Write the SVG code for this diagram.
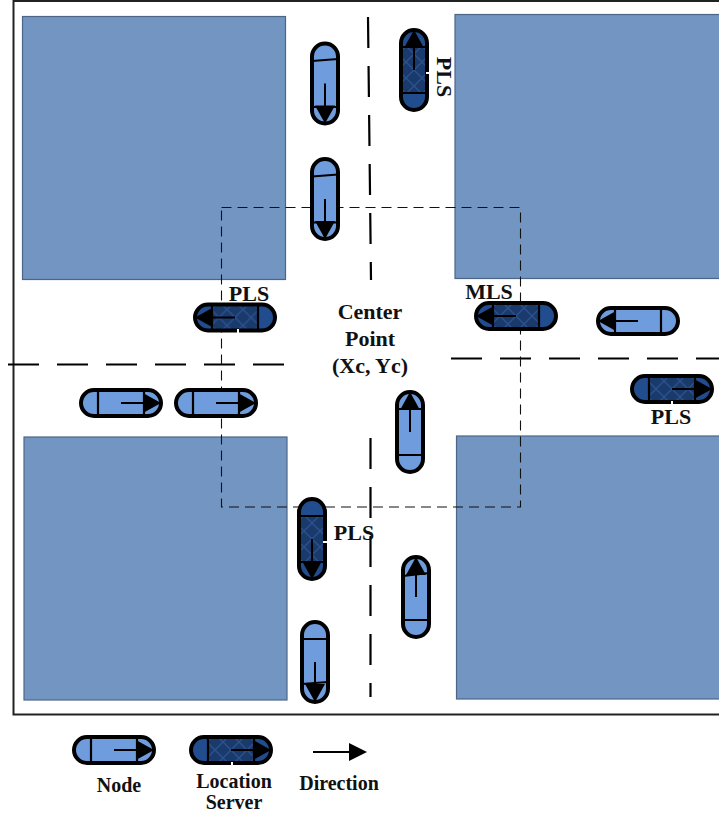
<svg xmlns="http://www.w3.org/2000/svg" width="719" height="813" viewBox="0 0 719 813">
<style>
.block{fill:#7295c1;stroke:#4d6688;stroke-width:1.2}
.road{fill:none;stroke:#000;stroke-width:2.2;stroke-dasharray:31 18}
.zone{fill:none;stroke:#111;stroke-width:1.1;stroke-dasharray:10 6}
.body{stroke:#000;stroke-width:4}
.light{fill:#6f9cdc}
.cap{fill:#214c8e}
.outline{fill:none;stroke:#000;stroke-width:4}
.div{stroke:#000;stroke-width:2.2;fill:none}
.shaft{stroke:#000;stroke-width:2;fill:none}
.tick{stroke:#fff;stroke-width:2}
text{font-family:"Liberation Serif","Times New Roman",serif;font-weight:bold;font-size:22px;fill:#111;text-anchor:middle}
.lg{font-size:20px}
</style>
<defs>
<pattern id="hatch" width="16" height="16" patternUnits="userSpaceOnUse">
<rect width="16" height="16" fill="#1b3a6c"/>
<path d="M0 0L16 16M16 0L0 16" stroke="#2a5290" stroke-width="1.3"/>
</pattern>
<g id="arrow">
<path class="shaft" d="M0 0H24"/>
<path d="M22 -10L40 0L22 10Z" fill="#000"/>
</g>
<g id="nodeL">
<rect class="body light" x="-40" y="-13" width="80" height="26" rx="13"/>
<use href="#arrow"/>
</g>
<g id="nodeD">
<rect class="cap" x="-40" y="-13" width="80" height="26" rx="13"/>
<rect x="-23" y="-13" width="46" height="26" fill="url(#hatch)"/>
<rect class="outline" x="-40" y="-13" width="80" height="26" rx="13"/>
<use href="#arrow"/>
</g>
<path id="divs" class="div" d="M-23 -13V13M23 -13V13"/>
</defs>
<rect width="719" height="813" fill="#fff"/>
<path d="M722 1H13.500V714.500H722" fill="none" stroke="#222" stroke-width="2"/>
<g id="blocks">
<rect class="block" x="22.500" y="16.500" width="263" height="263"/>
<rect class="block" x="455" y="14.500" width="266" height="264"/>
<rect class="block" x="24" y="437" width="263" height="263"/>
<rect class="block" x="456.500" y="436" width="265" height="263"/>
</g>
<g id="roads">
<path class="road" d="M368 17L371 280"/>
<path class="road" d="M370.500 438V697"/>
<path class="road" d="M8 364.500H285"/>
<path class="road" d="M451 358.500H719"/>
</g>
<g id="connectors">
<rect class="zone" x="221.500" y="207.500" width="299" height="299.500"/>
</g>
<g id="n1"><g transform="translate(325 83.500) rotate(90)"><use href="#nodeL"/><path class="div" d="M-22.500 13L-24.500 -13M23.500 -13V13"/></g></g>
<g id="n2"><g transform="translate(325 199) rotate(90)"><use href="#nodeL"/><path class="div" d="M-22.500 13L-24.500 -13M23.500 -13V13"/></g></g>
<g id="n3"><g transform="translate(414 70) rotate(-90)"><use href="#nodeD"/><use href="#divs"/></g><path class="tick" d="M426 73H430"/><text transform="translate(437 77) rotate(90)">PLS</text></g>
<g id="n4"><g transform="translate(235 317.500) rotate(180)"><use href="#nodeD"/><use href="#divs"/></g><path class="tick" d="M238 329V333"/><text x="249" y="301">PLS</text></g>
<g id="n5"><g transform="translate(516 316) rotate(180)"><use href="#nodeD"/><use href="#divs"/></g><text x="489" y="299">MLS</text></g>
<g id="n6"><g transform="translate(638 321) rotate(180)"><use href="#nodeL"/><use href="#divs"/></g></g>
<g id="n7"><g transform="translate(672 389)"><use href="#nodeD"/><use href="#divs"/></g><path class="tick" d="M672 401V405"/><text x="671" y="424">PLS</text></g>
<g id="n8"><g transform="translate(121 403)"><use href="#nodeL"/><use href="#divs"/></g></g>
<g id="n9"><g transform="translate(216 403)"><use href="#nodeL"/><use href="#divs"/></g></g>
<g id="n10"><g transform="translate(410 432) rotate(-90)"><use href="#nodeL"/><use href="#divs"/></g></g>
<g id="n11"><g transform="translate(312 539) rotate(90)"><use href="#nodeD"/><use href="#divs"/></g><path class="tick" d="M323 542H328"/><text x="354" y="540">PLS</text></g>
<g id="n12"><g transform="translate(416 597) rotate(-90)"><use href="#nodeL"/><path class="div" d="M-23 -13V13M21 -13L24 13"/></g></g>
<g id="n13"><g transform="translate(315 662) rotate(90)"><use href="#nodeL"/><path class="div" d="M-23 -13V13M20 -13L22 13"/></g></g>
<g id="center"><text x="370" y="319">Center</text><text x="370" y="346">Point</text><text x="370" y="373">(Xc, Yc)</text></g>
<g id="legend-node"><g transform="translate(114 750)"><use href="#nodeL"/><use href="#divs"/></g><text class="lg" x="119" y="792">Node</text></g>
<g id="legend-server"><g transform="translate(231 750)"><use href="#nodeD"/><use href="#divs"/></g><path class="tick" d="M232 762V766"/><text class="lg" x="234" y="788">Location</text><text class="lg" x="234" y="809">Server</text></g>
<g id="legend-direction"><path class="shaft" d="M313 752H350"/><path d="M349 743L367 752L349 761Z" fill="#000"/><text class="lg" x="339" y="790">Direction</text></g>
</svg>
